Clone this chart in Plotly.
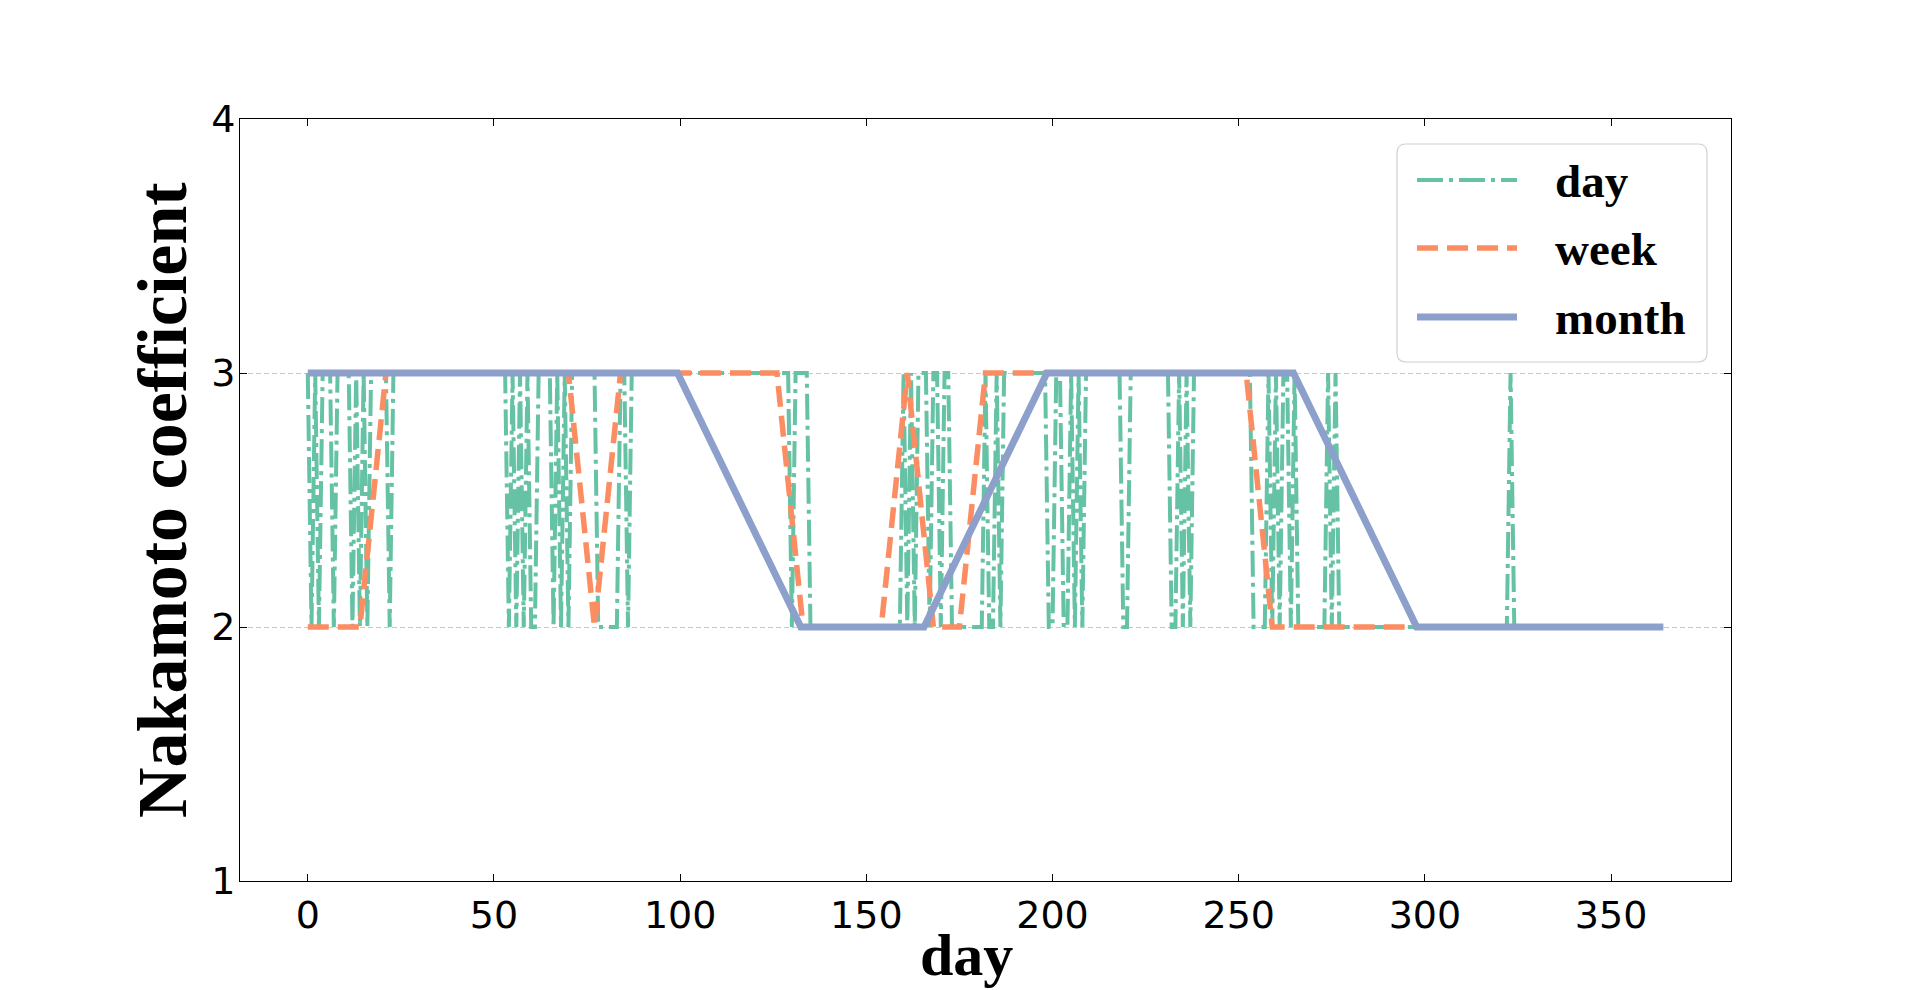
import plotly.graph_objects as go

# daily Nakamoto coefficient, day 0..364
day_x = list(range(365))
day_values = [
    3, 2, 3, 2, 3, 3, 3, 2, 3, 3, 3, 3, 2, 3, 2, 3, 2, 3, 3, 3,
    3, 3, 2, 3, 3, 3, 3, 3, 3, 3, 3, 3, 3, 3, 3, 3, 3, 3, 3, 3,
    3, 3, 3, 3, 3, 3, 3, 3, 3, 3, 3, 3, 3, 3, 2, 3, 2, 3, 2, 3,
    2, 2, 3, 3, 3, 3, 2, 3, 2, 3, 2, 3, 3, 3, 3, 3, 3, 3, 2, 2,
    2, 2, 2, 2, 3, 3, 2, 3, 3, 3, 3, 3, 3, 3, 3, 3, 3, 3, 3, 3,
    3, 3, 3, 3, 3, 3, 3, 3, 3, 3, 3, 3, 3, 3, 3, 3, 3, 3, 3, 3,
    3, 3, 3, 3, 3, 3, 3, 3, 3, 3, 2, 3, 3, 3, 3, 2, 2, 2, 2, 2,
    2, 2, 2, 2, 2, 2, 2, 2, 2, 2, 2, 2, 2, 2, 2, 2, 2, 2, 2, 2,
    3, 2, 3, 2, 3, 3, 3, 2, 3, 3, 2, 3, 3, 2, 2, 2, 2, 2, 2, 2,
    2, 2, 3, 2, 2, 3, 2, 3, 3, 3, 3, 3, 3, 3, 3, 3, 3, 3, 3, 2,
    2, 3, 3, 2, 2, 3, 2, 3, 2, 3, 3, 3, 3, 3, 3, 3, 3, 3, 3, 2,
    2, 3, 3, 3, 3, 3, 3, 3, 3, 3, 3, 3, 2, 2, 3, 2, 3, 2, 3, 3,
    3, 3, 3, 3, 3, 3, 3, 3, 3, 3, 3, 3, 3, 3, 2, 2, 2, 2, 3, 2,
    3, 2, 3, 3, 2, 3, 2, 2, 2, 2, 2, 2, 2, 2, 3, 2, 3, 2, 2, 2,
    2, 2, 2, 2, 2, 2, 2, 2, 2, 2, 2, 2, 2, 2, 2, 2, 2, 2, 2, 2,
    2, 2, 2, 2, 2, 2, 2, 2, 2, 2, 2, 2, 2, 2, 2, 2, 2, 2, 2, 2,
    2, 2, 2, 3, 2, 2, 2, 2, 2, 2, 2, 2, 2, 2, 2, 2, 2, 2, 2, 2,
    2, 2, 2, 2, 2, 2, 2, 2, 2, 2, 2, 2, 2, 2, 2, 2, 2, 2, 2, 2,
    2, 2, 2, 2, 2,
]

# weekly samples (every 7 days)
week_x = [0, 7, 14, 21, 28, 35, 42, 49, 56, 63, 70, 77, 84, 91, 98, 105, 112,
          119, 126, 133, 140, 147, 154, 161, 168, 175, 182, 189, 196, 203, 210,
          217, 224, 231, 238, 245, 252, 259, 266, 273, 280, 287, 294, 301, 308,
          315, 322, 329, 336, 343, 350, 357, 364]
week_values = [2, 2, 2, 3, 3, 3, 3, 3, 3, 3, 3, 2, 3, 3, 3, 3, 3,
               3, 3, 2, 2, 2, 2, 3, 2, 2, 3, 3, 3, 3, 3,
               3, 3, 3, 3, 3, 3, 2, 2, 2, 2, 2, 2, 2, 2,
               2, 2, 2, 2, 2, 2, 2, 2]

# monthly samples
month_x = [0, 33.1, 66.2, 99.3, 132.4, 165.5, 198.5, 231.6, 264.7, 297.8, 330.9, 364]
month_values = [3, 3, 3, 3, 2, 2, 3, 3, 3, 2, 2, 2]

x_ticks = [0, 50, 100, 150, 200, 250, 300, 350]
y_ticks = [1, 2, 3, 4]

series_names = ["day", "week", "month"]
colors = ["#66c2a5", "#fc8d62", "#8da0cb"]
widths = [4, 5.5, 7]
dashes = ["26px,6px,4px,6px", "21px,9px", "solid"]

W, H = 1923, 990
OFF = 8                            # page body margin around the figure
L, R, T, B = 240, 1731, 119, 881   # plot area in page pixels
SERIF = "Liberation Serif"


def px(xp):
    return (xp - L) / (R - L)


def py(yp):
    return (B - yp) / (B - T)


fig = go.Figure()
for name, xs, ys, c, w, d in zip(series_names,
                                 [day_x, week_x, month_x],
                                 [day_values, week_values, month_values],
                                 colors, widths, dashes):
    fig.add_trace(go.Scatter(
        x=xs, y=ys, mode="lines", name=name,
        line=dict(color=c, width=w, dash=d),
        showlegend=False,
    ))

# legend box (matplotlib-style rounded frame)
bx0, bx1, by0, by1, rad = 1397, 1707, 144, 362, 9
path = (f"M {px(bx0 + rad)},{py(by0)} L {px(bx1 - rad)},{py(by0)} "
        f"Q {px(bx1)},{py(by0)} {px(bx1)},{py(by0 + rad)} "
        f"L {px(bx1)},{py(by1 - rad)} Q {px(bx1)},{py(by1)} {px(bx1 - rad)},{py(by1)} "
        f"L {px(bx0 + rad)},{py(by1)} Q {px(bx0)},{py(by1)} {px(bx0)},{py(by1 - rad)} "
        f"L {px(bx0)},{py(by0 + rad)} Q {px(bx0)},{py(by0)} {px(bx0 + rad)},{py(by0)} Z")
shapes = [dict(type="path", path=path, xref="paper", yref="paper",
               line=dict(color="#d0d0d0", width=1.2), fillcolor="rgba(255,255,255,0.85)",
               layer="above")]
annotations = []
row_y = [180, 248, 317]
for name, c, w, d, yy in zip(series_names, colors, widths, dashes, row_y):
    shapes.append(dict(type="line", xref="paper", yref="paper",
                       x0=px(1417), x1=px(1517), y0=py(yy), y1=py(yy),
                       line=dict(color=c, width=w, dash=d), layer="above"))
    annotations.append(dict(text=f"<b>{name}</b>", xref="paper", yref="paper",
                            x=px(1553), y=py(yy + 1), xanchor="left", yanchor="middle",
                            showarrow=False,
                            font=dict(family=SERIF, size=47, color="black")))

# axis titles (x title nudged left so it clears the "200" tick label)
annotations.append(dict(text="<b>day</b>", xref="paper", yref="paper",
                        x=px(966), y=py(955), xanchor="center", yanchor="middle",
                        showarrow=False, font=dict(family=SERIF, size=60, color="black")))
annotations.append(dict(text="<b>Nakamoto coefficient</b>", xref="paper", yref="paper",
                        x=px(162), y=0.5, xanchor="center", yanchor="middle",
                        textangle=-90, showarrow=False,
                        font=dict(family=SERIF, size=70, color="black")))

axis_common = dict(
    showline=True, linecolor="black", linewidth=1, mirror="ticks",
    ticks="inside", ticklen=7, tickwidth=1, tickcolor="black",
    tickfont=dict(family="DejaVu Sans", size=38, color="black"),
    zeroline=False,
)

fig.update_layout(
    width=W, height=H, autosize=False,
    margin=dict(l=L - OFF, r=W - (R - OFF), t=T - OFF, b=H - (B - OFF)),
    paper_bgcolor="white", plot_bgcolor="white",
    shapes=shapes, annotations=annotations,
    xaxis=dict(range=[-18.2, 382.2], tickvals=x_ticks, showgrid=False, **axis_common),
    yaxis=dict(range=[1, 4], tickvals=y_ticks, showgrid=True, gridcolor="#c8c8c8",
               gridwidth=1, griddash="5px,3px", ticklabelstandoff=-4, **axis_common),
)

fig.write_html("out.html")
